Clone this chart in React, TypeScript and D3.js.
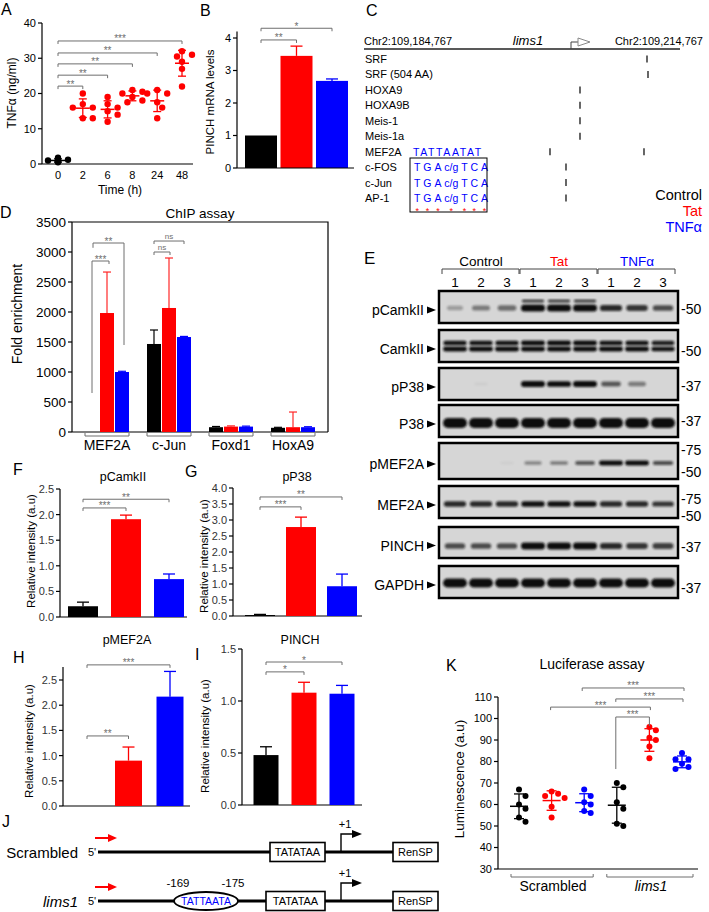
import React from 'react';
import * as d3 from 'd3';

const FONT = "'Liberation Sans', Arial, Helvetica, sans-serif";
const RED = '#ff0000';
const BLUE = '#0000ff';
const BLK = '#000000';
const SIG = '#6e6e6e';
const COND_COLORS = [BLK, RED, BLUE];

// ===== Panel A: TNFα secretion =====
const timePoints = ['0', '2', '6', '8', '24', '48'];
const tnf0h = [0.5, 0.8, 1.0, 1.2, 0.7, 1.8];
const tnf2h = [20, 17, 16, 16, 13, 13];
const tnf6h = [19, 17, 16, 15, 14, 12];
const tnf8h = [21, 20.5, 20, 19, 18, 17.5];
const tnf24h = [21, 20, 20, 17.5, 16, 13];
const tnf48h = [32, 31, 30.5, 29, 27, 22];
const tnfTicks = [0, 10, 20, 30, 40];
const aSigTo = ['2', '6', '8', '24', '48'];
const aSigLevel = [22.1, 25.2, 28.4, 31.5, 34.9];
const aSigText = ['**', '**', '**', '**', '***'];

// ===== Panel B: PINCH mRNA =====
const conditions = ['Control', 'Tat', 'TNFα'];
const pinchMrna = [1.0, 3.45, 2.68];
const pinchMrnaErr = [0, 0.3, 0.06];
const pinchMrnaTicks = [0, 1, 2, 3, 4];
const bSigLevel = [3.94, 4.3];
const bSigText = ['**', '*'];
const bSigTo = [1, 2];

// ===== Panel C: promoter map =====
const chrStart = 109184767;
const chrEnd = 109214767;
const tfNames = ['SRF', 'SRF (504 AA)', 'HOXA9', 'HOXA9B', 'Meis-1', 'Meis-1a', 'MEF2A', 'c-FOS', 'c-Jun', 'AP-1'];
const tfSites = [
  [109211634], [109211729], [109205273], [109205273], [109205273], [109205273],
  [109202425, 109211349], [109203944], [109203944], [109203944],
];
const tssPos = 109204419;
const mef2aMotif = 'TATTAATAT';
const ap1Motif = 'T G A c/g T C A';

// ===== Panel D: ChIP =====
const chipTargets = ['MEF2A', 'c-Jun', 'Foxd1', 'HoxA9'];
const chipControl = [0, 1467, 80, 70];
const chipTat = [1983, 2067, 90, 80];
const chipTnf = [1000, 1583, 90, 80];
const chipControlErr = [0, 233, 12, 8];
const chipTatErr = [683, 833, 12, 253];
const chipTnfErr = [12, 10, 8, 8];
const chipTicks = [0, 500, 1000, 1500, 2000, 2500, 3000, 3500];

// ===== Panel E: western blots =====
const blotGroups = ['Control', 'Tat', 'TNFα'];
const blotLanes = ['1', '2', '3', '1', '2', '3', '1', '2', '3'];
const blotTargets = ['pCamkII', 'CamkII', 'pP38', 'P38', 'pMEF2A', 'MEF2A', 'PINCH', 'GAPDH'];
const blotMarkers = [['50'], ['50'], ['37'], ['37'], ['75', '50'], ['75', '50'], ['37'], ['37']];
const pCamkIIBand = [0.25, 0.4, 0.45, 1, 1, 1, 0.75, 0.7, 0.6];
const pCamkIIUpperBand = [0, 0, 0, 0.75, 0.75, 0.75, 0, 0, 0];
const camkIIUpperBand = [0.85, 0.85, 0.85, 0.9, 0.9, 0.9, 0.85, 0.85, 0.8];
const camkIILowerBand = [0.9, 0.9, 0.9, 0.95, 0.95, 0.95, 0.9, 0.9, 0.85];
const pP38Band = [0, 0.03, 0, 0.95, 0.9, 0.95, 0.55, 0.4, 0];
const p38Band = [0.95, 0.95, 0.95, 0.95, 0.95, 0.95, 0.95, 0.95, 0.95];
const pMEF2ABand = [0, 0, 0.03, 0.35, 0.4, 0.55, 0.9, 0.9, 0.6];
const mef2aBand = [0.75, 0.75, 0.75, 0.85, 0.85, 0.85, 0.75, 0.75, 0.7];
const pinchBand = [0.6, 0.6, 0.6, 0.95, 0.95, 0.95, 0.75, 0.7, 0.65];
const gapdhBand = [0.95, 0.95, 0.95, 0.95, 0.95, 0.95, 0.95, 0.95, 0.95];

// ===== Panels F-I: densitometry =====
const pCamkIIRel = [0.21, 1.91, 0.74];
const pCamkIIRelErr = [0.08, 0.08, 0.1];
const pP38Rel = [0.03, 2.78, 0.93];
const pP38RelErr = [0.02, 0.31, 0.38];
const pMEF2ARel = [0, 0.9, 2.17];
const pMEF2ARelErr = [0, 0.27, 0.5];
const pinchRel = [0.48, 1.08, 1.07];
const pinchRelErr = [0.08, 0.1, 0.08];
const ticks25 = [0, 0.5, 1, 1.5, 2, 2.5];
const ticks40 = [0, 0.5, 1, 1.5, 2, 2.5, 3, 3.5, 4];
const ticks15 = [0, 0.5, 1, 1.5];

// ===== Panel K: luciferase =====
const lucGroups = ['Scr-Control', 'Scr-Tat', 'Scr-TNFα', 'lims1-Control', 'lims1-Tat', 'lims1-TNFα'];
const lucScrControl = [67, 64, 60, 58, 54, 52];
const lucScrTat = [66, 65, 64, 63, 59, 54];
const lucScrTnf = [67, 64, 61, 60, 57, 56];
const lucLimsControl = [70, 68, 61, 58, 51, 50];
const lucLimsTat = [96, 94.5, 91, 90, 87, 81.5];
const lucLimsTnf = [84, 81, 81, 79, 77.5, 76.5];
const lucTicks = [30, 40, 50, 60, 70, 80, 90, 100, 110];

// ---------- helpers ----------
function measure(text: string, font: string): number {
  const m: any = measure;
  if (!m.ctx) m.ctx = document.createElement('canvas').getContext('2d');
  m.ctx.font = font;
  return m.ctx.measureText(text).width;
}

function dodge(ys: number[], r: number, step: number): number[] {
  const order = d3.range(ys.length).sort((a, b) => ys[a] - ys[b]);
  const placed: [number, number][] = [];
  const out = new Array(ys.length).fill(0);
  const cands = [0, 1, -1, 2, -2, 3, -3].map((k) => k * step);
  for (const i of order) {
    for (const c of cands) {
      if (placed.every(([px, py]) => Math.hypot(px - c, py - ys[i]) >= 2 * r)) {
        out[i] = c;
        placed.push([c, ys[i]]);
        break;
      }
    }
  }
  return out;
}

function YAxis({ x, scale, ticks, fmt = (d: number) => String(d), fs = 11, top, color = '#000', tick = 4, sw = 1.2 }: any) {
  const r = scale.range();
  const yTop = top !== undefined ? scale(top) : r[1];
  return (
    <g>
      <line x1={x} x2={x} y1={r[0]} y2={yTop} stroke="#000" strokeWidth={sw} />
      {ticks.map((t: number) => (
        <g key={t}>
          <line x1={x - tick} x2={x} y1={scale(t)} y2={scale(t)} stroke="#000" strokeWidth={sw} />
          <text x={x - tick - 2} y={scale(t)} dy="0.36em" textAnchor="end" fontSize={fs} fill={color}>
            {fmt(t)}
          </text>
        </g>
      ))}
    </g>
  );
}

function Bracket({ x1, x2, y, y1b, y2b, label, fs = 10, ns = false, lx }: any) {
  const a = y1b ?? y + 3;
  const b = y2b ?? y + 3;
  return (
    <g>
      <path d={`M${x1},${a}V${y}H${x2}V${b}`} fill="none" stroke={SIG} strokeWidth={1} />
      <text x={lx ?? (x1 + x2) / 2} y={ns ? y - 2 : y + 1.5} textAnchor="middle" fontSize={fs} fill={SIG}>
        {label}
      </text>
    </g>
  );
}

function RotLabel({ x, y, text, fs }: any) {
  return (
    <text transform={`translate(${x},${y}) rotate(-90)`} textAnchor="middle" fontSize={fs}>
      {text}
    </text>
  );
}

function ScatterGroup({ cx, vals, y, color, r, collide, step, meanHalf = 9, capHalf = 5 }: any) {
  const ys = vals.map((v: number) => y(v));
  const off = dodge(ys, collide, step);
  const m = d3.mean(vals) as number;
  const sd = d3.deviation(vals) as number;
  return (
    <g>
      {vals.map((v: number, i: number) => (
        <circle key={i} cx={cx + off[i]} cy={ys[i]} r={r} fill={color} />
      ))}
      <line x1={cx} x2={cx} y1={y(m - sd)} y2={y(m + sd)} stroke={color} strokeWidth={1.3} />
      <line x1={cx - capHalf} x2={cx + capHalf} y1={y(m - sd)} y2={y(m - sd)} stroke={color} strokeWidth={1.3} />
      <line x1={cx - capHalf} x2={cx + capHalf} y1={y(m + sd)} y2={y(m + sd)} stroke={color} strokeWidth={1.3} />
      <line x1={cx - meanHalf} x2={cx + meanHalf} y1={y(m)} y2={y(m)} stroke={color} strokeWidth={1.5} />
    </g>
  );
}

// ---------- Panel A ----------
function PanelA() {
  const x = d3.scalePoint<string>().domain(timePoints).range([58, 182]);
  const y = d3.scaleLinear().domain([0, 40]).range([164, 23]);
  const series = [tnf0h, tnf2h, tnf6h, tnf8h, tnf24h, tnf48h];
  return (
    <g>
      <text x={1} y={15} fontSize={16}>A</text>
      <YAxis x={42} scale={y} ticks={tnfTicks} fs={11} />
      <line x1={42} x2={193} y1={164} y2={164} stroke="#000" strokeWidth={1.2} />
      {timePoints.map((t) => (
        <text key={t} x={x(t)} y={179} textAnchor="middle" fontSize={11}>{t}</text>
      ))}
      <text x={120} y={194} textAnchor="middle" fontSize={12}>Time (h)</text>
      <RotLabel x={16} y={93} text="TNFα (ng/ml)" fs={12} />
      {series.map((vals, i) => (
        <ScatterGroup key={i} cx={x(timePoints[i])!} vals={vals} y={y} color={i === 0 ? BLK : RED}
          r={3.2} collide={3.2} step={5} meanHalf={7} capHalf={4} />
      ))}
      {aSigTo.map((t, i) => (
        <Bracket key={t} x1={x('0')} x2={x(t)} y={y(aSigLevel[i])} label={aSigText[i]} fs={10} />
      ))}
    </g>
  );
}

// ---------- Panel B ----------
function PanelB() {
  const y = d3.scaleLinear().domain([0, 4]).range([168, 38]);
  const x = d3.scalePoint<string>().domain(conditions).range([261, 332]);
  const bw = 32;
  return (
    <g>
      <text x={200} y={16} fontSize={16}>B</text>
      <YAxis x={237} scale={y} ticks={pinchMrnaTicks} fs={11} top={4.2} />
      <RotLabel x={214} y={102} text="PINCH mRNA levels" fs={11.5} />
      {conditions.map((c, i) => (
        <g key={c}>
          <rect x={x(c)! - bw / 2} y={y(pinchMrna[i])} width={bw} height={y(0) - y(pinchMrna[i])} fill={COND_COLORS[i]} />
          {pinchMrnaErr[i] > 0 && (
            <g stroke={COND_COLORS[i]} strokeWidth={1.3}>
              <line x1={x(c)} x2={x(c)} y1={y(pinchMrna[i])} y2={y(pinchMrna[i] + pinchMrnaErr[i])} />
              <line x1={x(c)! - 6} x2={x(c)! + 6} y1={y(pinchMrna[i] + pinchMrnaErr[i])} y2={y(pinchMrna[i] + pinchMrnaErr[i])} />
            </g>
          )}
        </g>
      ))}
      <line x1={237} x2={354} y1={168} y2={168} stroke="#000" strokeWidth={1.2} />
      {bSigTo.map((j, i) => (
        <Bracket key={i} x1={x(conditions[0])} x2={x(conditions[j])} y={y(bSigLevel[i])} label={bSigText[i]} fs={10} />
      ))}
    </g>
  );
}

// ---------- Panel C ----------
function PanelC() {
  const gx = d3.scaleLinear().domain([chrStart, chrEnd]).range([364, 680]);
  const ry = d3.scalePoint<string>().domain(tfNames).range([59, 198]);
  const lineY = 49;
  const fs = 10.5;
  const font = `${fs}px 'Liberation Sans', Arial, sans-serif`;
  const tokens = ap1Motif.split(' ');
  const sp = measure(' ', font);
  let cx = 414;
  const tokPos = tokens.map((t) => {
    const w = measure(t, font);
    const p = { t, x: cx, c: cx + w / 2 };
    cx += w + sp;
    return p;
  });
  const tss = gx(tssPos);
  const fmtChr = d3.format(',');
  return (
    <g>
      <text x={366} y={16} fontSize={16}>C</text>
      <text x={364} y={45} fontSize={11}>{`Chr2:${fmtChr(chrStart)}`}</text>
      <text x={528} y={45} fontSize={13} fontStyle="italic" textAnchor="middle">lims1</text>
      <text x={703} y={45} fontSize={11} textAnchor="end">{`Chr2:${fmtChr(chrEnd)}`}</text>
      <line x1={364} x2={680} y1={lineY} y2={lineY} stroke="#222" strokeWidth={1.3} />
      <path d={`M${tss},${lineY}V${lineY - 7}H${tss + 7}`} fill="none" stroke="#444" strokeWidth={1} />
      <polygon points={`${tss + 7},${lineY - 11} ${tss + 19},${lineY - 7} ${tss + 7},${lineY - 3}`} fill="#fff" stroke="#888" strokeWidth={1} />
      {tfNames.map((n, i) => (
        <g key={n}>
          <text x={365} y={ry(n)! + 4} fontSize={11}>{n}</text>
          {tfSites[i].map((s, k) => (
            <line key={k} x1={gx(s)} x2={gx(s)} y1={ry(n)! - 3.5} y2={ry(n)! + 3.5} stroke="#000" strokeWidth={1.2} />
          ))}
        </g>
      ))}
      <text x={413} y={ry('MEF2A')! + 4} fontSize={fs} fill={BLUE} letterSpacing={1.6}>{mef2aMotif}</text>
      {['c-FOS', 'c-Jun', 'AP-1'].map((n) => (
        <g key={n}>
          {tokPos.map((p, k) => (
            <text key={k} x={p.x} y={ry(n)! + 4} fontSize={fs} fill={BLUE}>{p.t}</text>
          ))}
        </g>
      ))}
      {tokPos.map((p, k) => (
        <text key={k} x={p.c} y={214} fontSize={9} fill={RED} textAnchor="middle">*</text>
      ))}
      <rect x={410} y={158} width={77} height={54} fill="none" stroke="#000" strokeWidth={1} />
      <text x={702} y={200} fontSize={14.5} textAnchor="end" fill={BLK}>Control</text>
      <text x={702} y={216} fontSize={14.5} textAnchor="end" fill={RED}>Tat</text>
      <text x={702} y={232} fontSize={14.5} textAnchor="end" fill={BLUE}>TNFα</text>
    </g>
  );
}

// ---------- Panel D ----------
function PanelD() {
  const y = d3.scaleLinear().domain([0, 3500]).range([432, 222]);
  const gx = d3.scalePoint<string>().domain(chipTargets).range([107, 293]);
  const sx = d3.scaleBand<string>().domain(conditions).range([-22.5, 22.5]);
  const vals = [chipControl, chipTat, chipTnf];
  const errs = [chipControlErr, chipTatErr, chipTnfErr];
  const bx = (g: string, c: string) => gx(g)! + sx(c)! + sx.bandwidth() / 2;
  return (
    <g>
      <text x={0} y={218} fontSize={16}>D</text>
      <text x={200} y={218} fontSize={13.5} textAnchor="middle">ChIP assay</text>
      <path d="M72,222H328V432" fill="none" stroke="#000" strokeWidth={1.2} />
      <YAxis x={72} scale={y} ticks={chipTicks} fs={13.5} tick={4} />
      <line x1={72} x2={328} y1={432} y2={432} stroke="#000" strokeWidth={1.2} />
      <RotLabel x={22} y={314} text="Fold enrichment" fs={14} />
      {chipTargets.map((g, gi) => (
        <g key={g}>
          {conditions.map((c, ci) => {
            const v = vals[ci][gi];
            const e = errs[ci][gi];
            const cx = bx(g, c);
            return (
              <g key={c}>
                {v > 0 && (
                  <rect x={gx(g)! + sx(c)! + 0.5} y={y(v)} width={sx.bandwidth() - 1} height={y(0) - y(v)} fill={COND_COLORS[ci]} />
                )}
                {e > 0 && (
                  <g stroke={COND_COLORS[ci]} strokeWidth={1.2} opacity={ci === 1 ? 0.85 : 1}>
                    <line x1={cx} x2={cx} y1={y(v)} y2={y(v + e)} />
                    <line x1={cx - 4} x2={cx + 4} y1={y(v + e)} y2={y(v + e)} />
                  </g>
                )}
              </g>
            );
          })}
          <path d={`M${gx(g)! - 22},433V436H${gx(g)! + 22}V433`} fill="none" stroke={SIG} strokeWidth={1} />
          <text x={gx(g)} y={450} fontSize={14} textAnchor="middle">{g}</text>
        </g>
      ))}
      <Bracket x1={bx('MEF2A', 'Control')} x2={bx('MEF2A', 'Tat') + 2} y={y(2850)} y1b={y(650)} y2b={y(2800)} label="***" fs={10} />
      <Bracket x1={bx('MEF2A', 'Control') + 1} x2={bx('MEF2A', 'TNFα') + 2} y={y(3150)} y1b={y(3070)} y2b={y(1450)} label="**" fs={10} />
      <Bracket x1={bx('c-Jun', 'Control')} x2={bx('c-Jun', 'Tat') + 1} y={y(3000)} label="ns" ns fs={8} />
      <Bracket x1={bx('c-Jun', 'Control')} x2={bx('c-Jun', 'TNFα')} y={y(3183)} label="ns" ns fs={8} />
    </g>
  );
}

// ---------- Panel E ----------
function Band({ cx, cy, v, h, w = 24 }: any) {
  if (v <= 0.01) return null;
  const ww = w * (0.5 + 0.5 * Math.min(1, v + 0.1));
  const hh = h * (0.55 + 0.45 * v);
  return (
    <rect x={cx - ww / 2} y={cy - hh / 2} width={ww} height={hh} rx={hh / 2} ry={hh / 2}
      fill="#111" opacity={Math.min(1, v * 1.15)} filter="url(#blur)" />
  );
}

function PanelE() {
  const lane = d3.scalePoint<number>().domain(d3.range(9)).range([455, 663]);
  const rowTop = [291, 330, 368, 405, 443, 486, 527, 566];
  const rowH = [32, 32, 32, 32, 36, 32, 31, 32];
  const bands: { off: number; h: number; vals: number[] }[][] = [
    [{ off: 17, h: 7, vals: pCamkIIBand }, { off: 10, h: 3, vals: pCamkIIUpperBand }],
    [{ off: 13, h: 5, vals: camkIIUpperBand }, { off: 19, h: 5, vals: camkIILowerBand }],
    [{ off: 16, h: 6, vals: pP38Band }],
    [{ off: 18, h: 10, vals: p38Band }],
    [{ off: 20, h: 5, vals: pMEF2ABand }],
    [{ off: 18, h: 6, vals: mef2aBand }],
    [{ off: 19, h: 7, vals: pinchBand }],
    [{ off: 17, h: 9, vals: gapdhBand }],
  ];
  const markerOff = [[18], [21], [18], [16], [7, 29], [13, 30], [20], [22]];
  const headColors = [BLK, RED, BLUE];
  return (
    <g>
      <defs>
        <filter id="blur" x="-20%" y="-50%" width="140%" height="200%">
          <feGaussianBlur stdDeviation="0.9" />
        </filter>
      </defs>
      <text x={364} y={264} fontSize={17}>E</text>
      {blotGroups.map((g, gi) => {
        const x1 = lane(gi * 3)! - 13;
        const x2 = lane(gi * 3 + 2)! + 12;
        return (
          <g key={g}>
            <text x={lane(gi * 3 + 1)} y={266} fontSize={13.5} textAnchor="middle" fill={headColors[gi]}>{g}</text>
            <path d={`M${x1},274V269H${x2}V274`} fill="none" stroke="#444" strokeWidth={1} />
          </g>
        );
      })}
      {blotLanes.map((l, i) => (
        <text key={i} x={lane(i)} y={287} fontSize={13.5} textAnchor="middle">{l}</text>
      ))}
      {blotTargets.map((t, ri) => {
        const top = rowTop[ri];
        const h = rowH[ri];
        const ay = top + h / 2 + 3;
        return (
          <g key={t}>
            <rect x={439} y={top} width={239} height={h} fill="#d6d6d6" stroke="#000" strokeWidth={2.5} />
            {bands[ri].map((b, bi) => (
              <g key={bi}>
                {b.vals.map((v, li) => (
                  <Band key={li} cx={lane(li)} cy={top + b.off} v={v} h={b.h} />
                ))}
              </g>
            ))}
            <text x={424} y={ay + 5} fontSize={14} textAnchor="end">{t}</text>
            <polygon points={`${427},${ay - 3.5} ${436},${ay} ${427},${ay + 3.5}`} fill="#000" />
            {blotMarkers[ri].map((m, mi) => (
              <text key={m} x={681} y={top + markerOff[ri][mi] + 5} fontSize={14}>{`-${m}`}</text>
            ))}
          </g>
        );
      })}
    </g>
  );
}

// ---------- Bar panels F-I ----------
function BarPanel(p: any) {
  const y = d3.scaleLinear().domain([0, p.topVal]).range([p.y0, p.yTopPx]);
  const x = d3.scalePoint<string>().domain(conditions).range(p.centers);
  const fmt = d3.format('.1f');
  return (
    <g>
      <text x={p.lx} y={p.ly} fontSize={16}>{p.letter}</text>
      <text x={p.tx} y={p.ty} fontSize={12.5} textAnchor="middle">{p.title}</text>
      <YAxis x={p.axisX} scale={y} ticks={p.ticks} fmt={fmt} fs={11} top={p.axisTopVal} color="#333" />
      <line x1={p.axisX} x2={p.xEnd} y1={p.y0} y2={p.y0} stroke="#000" strokeWidth={1.2} />
      <RotLabel x={p.ylx} y={p.yly} text="Relative intensity (a.u)" fs={11.5} />
      {conditions.map((c, i) => {
        const v = p.values[i];
        const e = p.errs[i];
        const cx = x(c)!;
        return (
          <g key={c}>
            {v > 0 && <rect x={cx - p.bw / 2} y={y(v)} width={p.bw} height={p.y0 - y(v)} fill={COND_COLORS[i]} />}
            {e > 0 && (
              <g stroke={COND_COLORS[i]} strokeWidth={1.3}>
                <line x1={cx} x2={cx} y1={y(v)} y2={y(v + e)} />
                <line x1={cx - 6} x2={cx + 6} y1={y(v + e)} y2={y(v + e)} />
              </g>
            )}
          </g>
        );
      })}
      {p.sigs.map((s: any, k: number) => (
        <Bracket key={k} x1={x(conditions[s.a])} x2={x(conditions[s.b])} y={y(s.level)} label={s.text} fs={10} />
      ))}
    </g>
  );
}

// ---------- Panel J ----------
function PanelJ() {
  const rows = [
    { name: 'Scrambled', italic: false, y: 852, boxX: 270, boxW: 55 },
    { name: 'lims1', italic: true, y: 901, boxX: 266, boxW: 59 },
  ];
  return (
    <g>
      <text x={2} y={827} fontSize={16}>J</text>
      {rows.map((r, i) => (
        <g key={r.name}>
          <text x={78} y={r.y + 6} fontSize={15} textAnchor="end" fontStyle={r.italic ? 'italic' : 'normal'}>{r.name}</text>
          <text x={88} y={r.y + 4} fontSize={11}>5'</text>
          <line x1={98} x2={393} y1={r.y} y2={r.y} stroke="#000" strokeWidth={3} />
          <line x1={95} x2={110} y1={r.y - 14} y2={r.y - 14} stroke={RED} strokeWidth={2} />
          <polygon points={`${108},${r.y - 18} ${117},${r.y - 14} ${108},${r.y - 10}`} fill={RED} />
          <rect x={r.boxX} y={r.y - 9.5} width={r.boxW} height={19} fill="#fff" stroke="#000" strokeWidth={1.6} />
          <text x={r.boxX + r.boxW / 2} y={r.y + 4} fontSize={11} textAnchor="middle">TATATAA</text>
          <path d={`M341,${r.y}V${r.y - 18}H353`} fill="none" stroke="#000" strokeWidth={1.4} />
          <polygon points={`${352},${r.y - 22} ${362},${r.y - 18} ${352},${r.y - 14}`} fill="#000" />
          <text x={345} y={r.y - 24} fontSize={11} textAnchor="middle">+1</text>
          <rect x={393} y={r.y - 9.5} width={45} height={19} fill="#fff" stroke="#000" strokeWidth={1.6} />
          <text x={415.5} y={r.y + 4} fontSize={11} textAnchor="middle">RenSP</text>
          {i === 1 && (
            <g>
              <ellipse cx={206} cy={r.y} rx={32} ry={9} fill="#fff" stroke="#000" strokeWidth={1.8} />
              <text x={206} y={r.y + 4} fontSize={10.5} textAnchor="middle" fill={BLUE}>TATTAATA</text>
              <text x={178} y={r.y - 14} fontSize={11.5} textAnchor="middle">-169</text>
              <text x={233} y={r.y - 14} fontSize={11.5} textAnchor="middle">-175</text>
            </g>
          )}
        </g>
      ))}
    </g>
  );
}

// ---------- Panel K ----------
function PanelK() {
  const y = d3.scaleLinear().domain([30, 110]).range([869, 697]);
  const x = d3.scalePoint<string>().domain(lucGroups).range([519, 682]);
  const series = [lucScrControl, lucScrTat, lucScrTnf, lucLimsControl, lucLimsTat, lucLimsTnf];
  const cols = [BLK, RED, BLUE, BLK, RED, BLUE];
  const g = (i: number) => x(lucGroups[i])!;
  return (
    <g>
      <text x={446} y={671} fontSize={16}>K</text>
      <text x={592} y={669} fontSize={14} textAnchor="middle">Luciferase assay</text>
      <YAxis x={498} scale={y} ticks={lucTicks} fs={11} />
      <line x1={498} x2={698} y1={869} y2={869} stroke="#000" strokeWidth={1.2} />
      <RotLabel x={464} y={779} text="Luminescence (a.u)" fs={13.5} />
      {series.map((vals, i) => (
        <ScatterGroup key={i} cx={g(i)} vals={vals} y={y} color={cols[i]} r={3} collide={3.4} step={6.5} meanHalf={9} capHalf={5} />
      ))}
      <Bracket x1={g(2) - 2} x2={g(5) + 2} y={y(114.2)} label="***" fs={10} />
      <Bracket x1={g(3) - 1} x2={g(5) + 1} y={y(109.1)} label="***" fs={10} />
      <Bracket x1={g(1) - 1} x2={g(4) + 1} y={y(105.3)} label="***" fs={10} />
      <Bracket x1={g(3) - 1} x2={g(4)} y={y(100.7)} y1b={y(76.5)} y2b={y(96.5)} label="***" fs={10} />
      <path d={`M${g(0) - 8},874V877H${g(2) + 9}V874`} fill="none" stroke={SIG} strokeWidth={1} />
      <path d={`M${g(3) - 10},874V877H${g(5) + 11}V874`} fill="none" stroke={SIG} strokeWidth={1} />
      <text x={553} y={891} fontSize={14} textAnchor="middle">Scrambled</text>
      <text x={651} y={891} fontSize={14} textAnchor="middle" fontStyle="italic">lims1</text>
    </g>
  );
}

export default function App() {
  return (
    <svg width={709} height={912} viewBox="0 0 709 912" fontFamily={FONT}
      style={{ position: 'absolute', left: 0, top: 0, background: '#fff' }}>
      <rect width={709} height={912} fill="#fff" />
      <PanelA />
      <PanelB />
      <PanelC />
      <PanelD />
      <PanelE />
      <BarPanel letter="F" lx={13} ly={475} title="pCamkII" tx={123} ty={481}
        axisX={60} xEnd={187} y0={617} yTopPx={489} topVal={2.5} axisTopVal={2.5}
        ticks={ticks25} centers={[83, 169]} bw={30} values={pCamkIIRel} errs={pCamkIIRelErr}
        sigs={[{ a: 0, b: 1, level: 2.13, text: '***' }, { a: 0, b: 2, level: 2.3, text: '**' }]}
        ylx={35} yly={551} />
      <BarPanel letter="G" lx={185} ly={477} title="pP38" tx={297} ty={481}
        axisX={233} xEnd={362} y0={616} yTopPx={488} topVal={4} axisTopVal={4}
        ticks={ticks40} centers={[260, 342]} bw={30} values={pP38Rel} errs={pP38RelErr}
        sigs={[{ a: 0, b: 1, level: 3.41, text: '***' }, { a: 0, b: 2, level: 3.72, text: '**' }]}
        ylx={208} yly={556} />
      <BarPanel letter="H" lx={13} ly={663} title="pMEF2A" tx={127} ty={644}
        axisX={63} xEnd={190} y0={806} yTopPx={680} topVal={2.5} axisTopVal={2.76}
        ticks={ticks25} centers={[87, 170]} bw={27} values={pMEF2ARel} errs={pMEF2ARelErr}
        sigs={[{ a: 0, b: 2, level: 2.8, text: '***' }, { a: 0, b: 1, level: 1.39, text: '**' }]}
        ylx={33} yly={741} />
      <BarPanel letter="I" lx={195} ly={660} title="PINCH" tx={300} ty={644}
        axisX={242} xEnd={362} y0={805} yTopPx={649} topVal={1.5} axisTopVal={1.5}
        ticks={ticks15} centers={[266, 342]} bw={25} values={pinchRel} errs={pinchRelErr}
        sigs={[{ a: 0, b: 2, level: 1.375, text: '*' }, { a: 0, b: 1, level: 1.28, text: '*' }]}
        ylx={209} yly={736} />
      <PanelJ />
      <PanelK />
    </svg>
  );
}
